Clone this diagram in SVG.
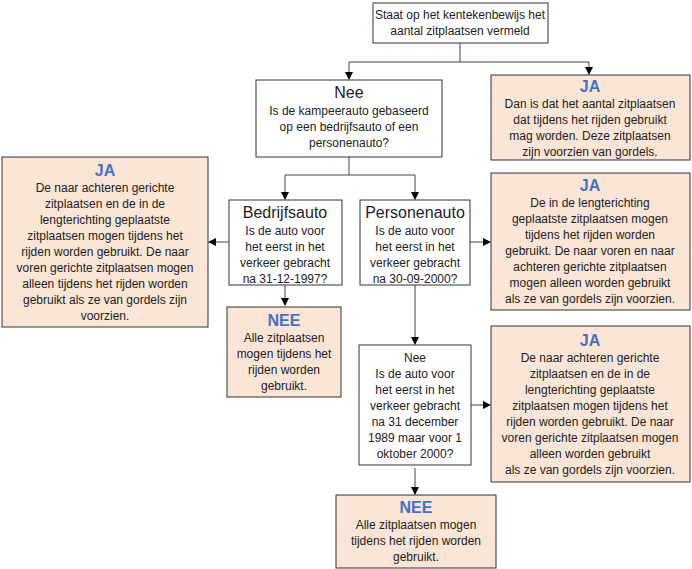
<svg xmlns="http://www.w3.org/2000/svg" width="692" height="569" viewBox="0 0 692 569">
<style>
.w{fill:#fff;stroke:#333;stroke-width:1}
.p{fill:#fbe5d6;stroke:#333;stroke-width:1}
text{font-family:"Liberation Sans",Arial,sans-serif;font-size:12px;fill:#222;text-anchor:middle}
.h{font-size:16px}
.b{font-size:16px;font-weight:bold;fill:#4472c4}
.c{fill:none;stroke:#444;stroke-width:1}
</style>
<defs><marker id="a" markerWidth="8" markerHeight="8" refX="7" refY="4" orient="auto" markerUnits="userSpaceOnUse"><path d="M0,0L8,4L0,8z" fill="#000"/></marker></defs>
<rect width="692" height="569" fill="#fff"/>
<g id="connectors">
<path class="c" d="M460,43V62H349V79" marker-end="url(#a)"/>
<path class="c" d="M460,62H589V74" marker-end="url(#a)"/>
<path class="c" d="M349,157V175H285V199" marker-end="url(#a)"/>
<path class="c" d="M349,175H415V199" marker-end="url(#a)"/>
<path class="c" d="M229,242H209" marker-end="url(#a)"/>
<path class="c" d="M285,285V305" marker-end="url(#a)"/>
<path class="c" d="M470,242H490" marker-end="url(#a)"/>
<path class="c" d="M415,285V344" marker-end="url(#a)"/>
<path class="c" d="M470,405H490" marker-end="url(#a)"/>
<path class="c" d="M415,468V494" marker-end="url(#a)"/>
</g>
<g id="n1"><rect class="w" x="373" y="3" width="175" height="40"/><text x="460" y="19">Staat op het kentekenbewijs het</text><text x="460" y="35">aantal zitplaatsen vermeld</text></g>
<g id="n2"><rect class="w" x="256" y="80" width="186" height="77"/><text class="h" x="349" y="98">Nee</text><text x="349" y="115">Is de kampeerauto gebaseerd</text><text x="349" y="131">op een bedrijfsauto of een</text><text x="349" y="147">personenauto?</text></g>
<g id="n3"><rect class="p" x="491" y="75" width="199" height="85"/><text class="b" x="590" y="92">JA</text><text x="590" y="108">Dan is dat het aantal zitplaatsen</text><text x="590" y="124">dat tijdens het rijden gebruikt</text><text x="590" y="140">mag worden. Deze zitplaatsen</text><text x="590" y="156">zijn voorzien van gordels.</text></g>
<g id="n4"><rect class="p" x="2" y="157" width="206" height="170"/><text class="b" x="105" y="176">JA</text><text x="105" y="192">De naar achteren gerichte</text><text x="105" y="208">zitplaatsen en de in de</text><text x="105" y="224">lengterichting geplaatste</text><text x="105" y="240">zitplaatsen mogen tijdens het</text><text x="105" y="256">rijden worden gebruikt. De naar</text><text x="105" y="272">voren gerichte zitplaatsen mogen</text><text x="105" y="288">alleen tijdens het rijden worden</text><text x="105" y="304">gebruikt als ze van gordels zijn</text><text x="105" y="320">voorzien.</text></g>
<g id="n5"><rect class="w" x="229" y="200" width="113" height="85"/><text class="h" x="285" y="218">Bedrijfsauto</text><text x="285" y="235">Is de auto voor</text><text x="285" y="251">het eerst in het</text><text x="285" y="267">verkeer gebracht</text><text x="285" y="283">na 31-12-1997?</text></g>
<g id="n6"><rect class="w" x="360" y="200" width="110" height="85"/><text class="h" x="415" y="218">Personenauto</text><text x="415" y="235">Is de auto voor</text><text x="415" y="251">het eerst in het</text><text x="415" y="267">verkeer gebracht</text><text x="415" y="283">na 30-09-2000?</text></g>
<g id="n7"><rect class="p" x="491" y="173" width="199" height="137"/><text class="b" x="590" y="191">JA</text><text x="590" y="207">De in de lengterichting</text><text x="590" y="223">geplaatste zitplaatsen mogen</text><text x="590" y="239">tijdens het rijden worden</text><text x="590" y="255">gebruikt. De naar voren en naar</text><text x="590" y="271">achteren gerichte zitplaatsen</text><text x="590" y="287">mogen alleen worden gebruikt</text><text x="590" y="303">als ze van gordels zijn voorzien.</text></g>
<g id="n8"><rect class="p" x="227" y="307" width="114" height="90"/><text class="b" x="284" y="326">NEE</text><text x="284" y="342">Alle zitplaatsen</text><text x="284" y="358">mogen tijdens het</text><text x="284" y="374">rijden worden</text><text x="284" y="390">gebruikt.</text></g>
<g id="n9"><rect class="w" x="359" y="345" width="112" height="120"/><text x="415" y="362">Nee</text><text x="415" y="378">Is de auto voor</text><text x="415" y="394">het eerst in het</text><text x="415" y="410">verkeer gebracht</text><text x="415" y="426">na 31 december</text><text x="415" y="442">1989 maar voor 1</text><text x="415" y="458">oktober 2000?</text></g>
<g id="n10"><rect class="p" x="491" y="326" width="199" height="156"/><text class="b" x="590" y="346">JA</text><text x="590" y="362">De naar achteren gerichte</text><text x="590" y="378">zitplaatsen en de in de</text><text x="590" y="394">lengterichting geplaatste</text><text x="590" y="410">zitplaatsen mogen tijdens het</text><text x="590" y="426">rijden worden gebruikt. De naar</text><text x="590" y="442">voren gerichte zitplaatsen mogen</text><text x="590" y="458">alleen worden gebruikt</text><text x="590" y="474">als ze van gordels zijn voorzien.</text></g>
<g id="n11"><rect class="p" x="336" y="495" width="160" height="73"/><text class="b" x="416" y="513">NEE</text><text x="416" y="529">Alle zitplaatsen mogen</text><text x="416" y="545">tijdens het rijden worden</text><text x="416" y="561">gebruikt.</text></g>
</svg>
